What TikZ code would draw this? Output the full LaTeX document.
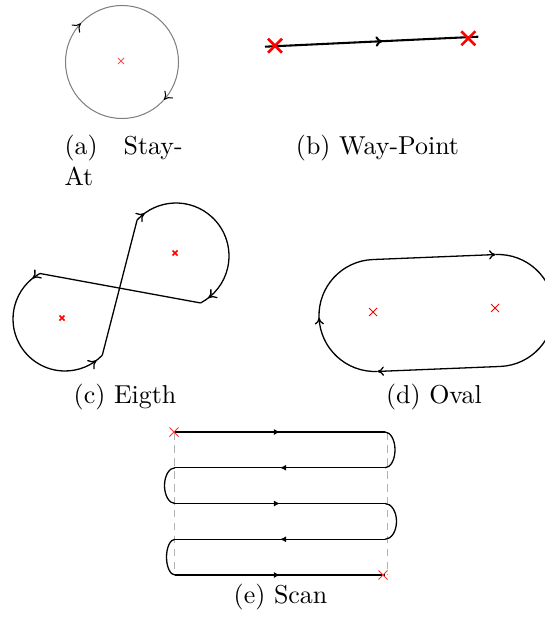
\documentclass[tikz,border=0pt]{standalone}
\usetikzlibrary{arrows.meta,decorations.markings,calc}
\begin{document}
\begin{tikzpicture}[x=0.386pt,y=-0.386pt,
  captxt/.style={inner sep=0pt,anchor=base},
  pics/xmk/.style args={#1/#2/#3}{code={\draw[#3,line width=#2] (-#1,-#1)--(#1,#1) (-#1,#1)--(#1,-#1);}},
  arrs/.style 2 args={postaction={decorate},decoration={markings,
     mark=at position #1 with {\arrow[black]{To[length=3pt,width=4.4pt]}},
     mark=at position #2 with {\arrow[black]{To[length=3pt,width=4.4pt]}}}},
  arrmid/.style={postaction={decorate},decoration={markings,
     mark=at position #1 with {\arrow[black]{To[length=2.6pt,width=3.6pt]}}}},
  scanarr/.style={postaction={decorate},decoration={markings,
     mark=at position 0.5 with {\arrow[black]{Latex[length=2.4pt,width=2.4pt]}}}},
  eightline/.style={black,line width=0.5pt},
  ovalline/.style={black,line width=0.5pt},
  scanline/.style={black,line width=0.5pt},
  guide/.style={gray!60,densely dashed,line width=0.3pt}]
\useasboundingbox (0,0) rectangle (545,619);

% (a) Stay-At
\coordinate (A) at (122,62);
\draw[gray,line width=0.4pt,arrs={0.12}{0.617}] (A) ++(180:56.5) arc[start angle=180,end angle=540,radius=56.5];
\pic at (121,61) {xmk=3/0.3pt/red!70};
\node[inner sep=0pt,anchor=base west] (capa) at (64,154.5) {\parbox[t]{45.6pt}{\tolerance=10000 \hbadness=10000 (a) Stay-At}};

% (b) Way-Point
\coordinate (B1) at (265,46.7);
\coordinate (B2) at (478.3,36.7);
\draw[black,line width=0.8pt,postaction={decorate},decoration={markings,
  mark=at position 0.55 with {\arrow{To[length=2.6pt,width=4pt]}}}] (B1) -- (B2);
\pic at (275,45.7) {xmk=7/1pt/red};
\pic at (468.3,38.3) {xmk=7/1pt/red};
\node[captxt] (capb) at (377.5,154.5) {(b) Way-Point};

% (c) Eigth
\coordinate (U) at (176,256);
\coordinate (Lc) at (65,319);
\coordinate (P1) at ($(U)+(222.8:53)$);
\coordinate (P4) at ($(U)+(422.4:53)$);
\coordinate (P5) at ($(Lc)+(241.1:52)$);
\coordinate (P6) at ($(Lc)+(44.2:52)$);
\draw[eightline,arrs={0.05}{0.957}] (P5) arc[start angle=241.1,end angle=44.2,radius=52];
\draw[eightline] (P6) -- (P1);
\draw[eightline,arrs={0.055}{0.95}] (P1) arc[start angle=222.8,end angle=422.4,radius=53];
\draw[eightline] (P4) -- (P5);
\pic at (175,253) {xmk=2.5/0.6pt/red};
\pic at (62,318) {xmk=2.5/0.6pt/red};
\node[captxt] (capc) at (125,403) {(c) Eigth};

% (d) Oval
\coordinate (L) at (375,315.5);
\coordinate (R) at (498,310.5);
\coordinate (TL) at ($(L)+(-92.3:56)$);
\coordinate (TR) at ($(R)+(-92.3:56)$);
\coordinate (BR) at ($(R)+(87.7:56)$);
\coordinate (BL) at ($(L)+(87.7:56)$);
\draw[ovalline,-{To[length=2.6pt,width=3.6pt]}] (TL) -- (TR);
\draw[ovalline,arrmid=0.5] (TR) arc[start angle=-92.3,end angle=87.7,radius=56];
\draw[ovalline,-{To[length=2.6pt,width=3.6pt]}] (BR) -- (BL);
\draw[ovalline,arrmid=0.5] (BL) arc[start angle=87.7,end angle=267.7,radius=56];
\pic at (373,312) {xmk=4/0.4pt/red};
\pic at (495,308) {xmk=4/0.4pt/red};
\node[captxt] (capd) at (434,403) {(d) Oval};

% (e) Scan
\coordinate (G1a) at (174,432); \coordinate (G1b) at (174,575);
\coordinate (G2a) at (387,432); \coordinate (G2b) at (387,575);
\draw[guide] (G1a) -- (G1b);
\draw[guide] (G2a) -- (G2b);
\coordinate (S1l) at (175,432);    \coordinate (S1r) at (385,432);
\coordinate (S2l) at (175,467.75); \coordinate (S2r) at (385,467.75);
\coordinate (S3l) at (175,503.5);  \coordinate (S3r) at (385,503.5);
\coordinate (S4l) at (175,539.25); \coordinate (S4r) at (385,539.25);
\coordinate (S5l) at (175,575);    \coordinate (S5r) at (385,575);
\draw[scanline,scanarr] (S1l) -- (S1r);
\draw[scanline] (S1r) arc[start angle=-90,end angle=90,x radius=10,y radius=17.875];
\draw[scanline,scanarr] (S2r) -- (S2l);
\draw[scanline] (S2l) arc[start angle=270,end angle=90,x radius=10.5,y radius=17.875];
\draw[scanline,scanarr] (S3l) -- (S3r);
\draw[scanline] (S3r) arc[start angle=-90,end angle=90,x radius=11.5,y radius=17.875];
\draw[scanline,scanarr] (S4r) -- (S4l);
\draw[scanline] (S4l) arc[start angle=270,end angle=90,x radius=8.5,y radius=17.875];
\draw[scanline,scanarr] (S5l) -- (S5r);
\pic at (174,432) {xmk=4.5/0.4pt/red!80};
\pic at (383,575) {xmk=4.5/0.4pt/red!80};
\node[captxt] (cape) at (280.5,603) {(e) Scan};
\end{tikzpicture}
\end{document}
